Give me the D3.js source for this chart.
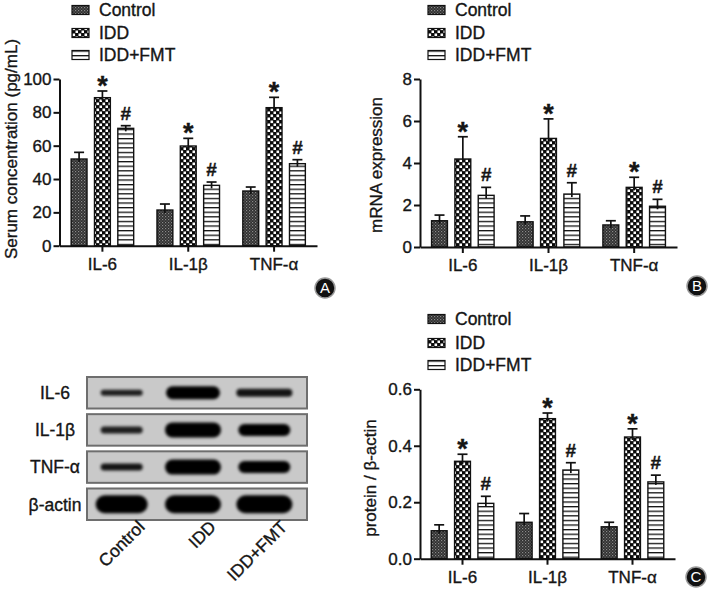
<!DOCTYPE html>
<html>
<head>
<meta charset="utf-8">
<script src="https://cdn.jsdelivr.net/npm/d3@7"></script>
<style>
  body { margin: 0; background: #fff; }
  text { font-family: 'Liberation Sans', Arial, sans-serif; fill: #151515; stroke: #151515; stroke-width: 0.35px; }
</style>
</head>
<body>
<div id="chart"></div>
<script>
let width = 709
let height = 594

// categories
let groups = ['IL-6', 'IL-1β', 'TNF-α']
let series = ['Control', 'IDD', 'IDD+FMT']

// panel A: serum concentration (pg/mL), rows = series
let serumMeans = [[52, 21.4, 32.8], [88.8, 59.8, 82.8], [70.4, 36.2, 49.2]]
let serumErrors = [[4, 3.6, 2.4], [4, 4.6, 6.2], [1.6, 2, 2.4]]
let serumTicks = [0, 20, 40, 60, 80, 100]

// panel B: mRNA expression
let mrnaMeans = [[1.25, 1.2, 1.05], [4.19, 5.17, 2.84], [2.46, 2.52, 1.94]]
let mrnaErrors = [[0.27, 0.28, 0.2], [1.06, 0.93, 0.48], [0.38, 0.54, 0.33]]
let mrnaTicks = [0, 2, 4, 6, 8]

// panel C: protein / beta-actin
let proteinMeans = [[0.099, 0.129, 0.113], [0.345, 0.496, 0.431], [0.196, 0.314, 0.272]]
let proteinErrors = [[0.021, 0.031, 0.016], [0.025, 0.02, 0.029], [0.025, 0.026, 0.024]]
let proteinTicks = [0, 0.2, 0.4, 0.6]

// significance marks per series
let marks = ['', '*', '#']

// western blot
let blotRows = ['IL-6', 'IL-1β', 'TNF-α', 'β-actin']
let blotLanes = ['Control', 'IDD', 'IDD+FMT']
let bandWidths = [[42, 54, 56], [42, 56, 52], [42, 56, 52], [52, 56, 56]]
let bandThickness = [[6, 13, 8], [7, 15, 12], [7, 15, 12], [18, 18, 18]]
let bandDarkness = [[0.85, 1, 0.9], [0.85, 1, 1], [0.9, 1, 1], [1, 1, 1]]

let svg = d3
  .select('#chart')
  .append('svg')
  .attr('width', width)
  .attr('height', height)

let defs = svg.append('defs')

// fine dark texture for Control
let p1 = defs.append('pattern')
  .attr('id', 'pat-control')
  .attr('patternUnits', 'userSpaceOnUse')
  .attr('width', 3)
  .attr('height', 3)
p1.append('rect').attr('width', 3).attr('height', 3).attr('fill', '#2e2e2e')
p1.append('rect').attr('x', 0).attr('y', 0).attr('width', 1.2).attr('height', 1.2).attr('fill', '#8a8a8a')
p1.append('rect').attr('x', 1.5).attr('y', 1.5).attr('width', 1.2).attr('height', 1.2).attr('fill', '#6a6a6a')

// checker for IDD
let p2 = defs.append('pattern')
  .attr('id', 'pat-idd')
  .attr('patternUnits', 'userSpaceOnUse')
  .attr('width', 6)
  .attr('height', 6)
p2.append('rect').attr('width', 6).attr('height', 6).attr('fill', '#0a0a0a')
p2.append('rect').attr('x', 0.5).attr('y', 0.5).attr('width', 2.6).attr('height', 2.6).attr('fill', '#fff')
p2.append('rect').attr('x', 3.5).attr('y', 3.5).attr('width', 2.6).attr('height', 2.6).attr('fill', '#fff')

// horizontal stripes for IDD+FMT
let p3 = defs.append('pattern')
  .attr('id', 'pat-fmt')
  .attr('patternUnits', 'userSpaceOnUse')
  .attr('width', 6)
  .attr('height', 4.6)
p3.append('rect').attr('width', 6).attr('height', 4.6).attr('fill', '#fff')
p3.append('rect').attr('y', 0).attr('width', 6).attr('height', 1.3).attr('fill', '#111')

let fills = ['url(#pat-control)', 'url(#pat-idd)', 'url(#pat-fmt)']

let blur = defs.append('filter')
  .attr('id', 'band-blur')
  .attr('x', '-50%').attr('y', '-100%')
  .attr('width', '200%').attr('height', '300%')
blur.append('feGaussianBlur').attr('stdDeviation', 1.8)

function drawPanel(opts) {
  let g = svg.append('g')

  let yScale = d3.scaleLinear().domain(opts.domain).range([opts.bottom, opts.top])
  let xScale = d3.scaleBand().domain(groups).range(opts.xRange)
  let inner = d3.scaleBand()
    .domain(series)
    .range([-35, 35])
    .paddingInner(0.32)
    .paddingOuter(0.16)

  let rows = []
  series.forEach((s, i) => {
    groups.forEach((grp, j) => {
      rows.push({ s: s, i: i, grp: grp, value: opts.means[i][j], err: opts.errors[i][j] })
    })
  })

  let cx = function(d) {
    return xScale(d.grp) + xScale.bandwidth() / 2 + inner(d.s) + inner.bandwidth() / 2
  }

  g.selectAll('.bar')
    .data(rows)
    .enter()
    .append('rect')
    .attr('x', d => cx(d) - inner.bandwidth() / 2)
    .attr('y', d => yScale(d.value))
    .attr('width', inner.bandwidth())
    .attr('height', d => yScale(0) - yScale(d.value))
    .attr('fill', d => fills[d.i])
    .attr('stroke', '#111')
    .attr('stroke-width', 1.4)

  // error bars (upper only)
  g.selectAll('.stem')
    .data(rows)
    .enter()
    .append('line')
    .attr('x1', cx)
    .attr('x2', cx)
    .attr('y1', d => yScale(d.value) + 3)
    .attr('y2', d => yScale(d.value + d.err))
    .attr('stroke', '#111')
    .attr('stroke-width', 1.7)
  g.selectAll('.cap')
    .data(rows)
    .enter()
    .append('line')
    .attr('x1', d => cx(d) - 5)
    .attr('x2', d => cx(d) + 5)
    .attr('y1', d => yScale(d.value + d.err))
    .attr('y2', d => yScale(d.value + d.err))
    .attr('stroke', '#111')
    .attr('stroke-width', 1.7)

  // significance marks
  g.selectAll('.mark')
    .data(rows.filter(d => marks[d.i] !== ''))
    .enter()
    .append('text')
    .attr('x', cx)
    .attr('y', d => yScale(d.value + d.err) + (marks[d.i] === '*' ? 4 : -6))
    .attr('text-anchor', 'middle')
    .attr('font-weight', 'bold')
    .attr('font-size', d => (marks[d.i] === '*' ? 27 : 19))
    .text(d => marks[d.i])

  // y axis
  let yAxis = d3.axisLeft(yScale)
    .tickValues(opts.ticks)
    .tickFormat(opts.format)
    .tickSize(6)
    .tickSizeOuter(0)
  let ya = g.append('g')
    .attr('transform', 'translate(' + opts.xRange[0] + ',0)')
    .call(yAxis)
  ya.select('.domain').attr('stroke', '#111').attr('stroke-width', 2)
  ya.selectAll('.tick line').attr('stroke', '#111').attr('stroke-width', 2)
  ya.selectAll('.tick text')
    .attr('font-size', 17)
    .attr('font-family', 'Liberation Sans, Arial, sans-serif')
    .attr('fill', '#151515')
    .attr('x', -8)

  // x axis
  let xAxis = d3.axisBottom(xScale).tickSize(6).tickSizeOuter(0)
  let xa = g.append('g')
    .attr('transform', 'translate(0,' + opts.bottom + ')')
    .call(xAxis)
  xa.select('.domain').attr('stroke', '#111').attr('stroke-width', 2)
  xa.selectAll('.tick line').attr('stroke', '#111').attr('stroke-width', 2)
  xa.selectAll('.tick text')
    .attr('font-size', 17)
    .attr('font-family', 'Liberation Sans, Arial, sans-serif')
    .attr('fill', '#151515')
    .attr('y', 12)

  // axis title
  g.append('text')
    .attr('transform', 'translate(' + opts.titleX + ',' + opts.titleY + ') rotate(-90)')
    .attr('text-anchor', 'middle')
    .attr('dy', '0.35em')
    .attr('font-size', 17)
    .text(opts.title)

  // legend
  let leg = g.selectAll('.legend')
    .data(series)
    .enter()
    .append('g')
    .attr('transform', (d, i) => 'translate(' + opts.legendX + ',' + opts.legendY[i] + ')')
  leg.append('rect')
    .attr('x', 0)
    .attr('y', -4.5)
    .attr('width', 17)
    .attr('height', 9)
    .attr('fill', (d, i) => fills[i])
    .attr('stroke', '#111')
    .attr('stroke-width', 1.2)
  leg.append('text')
    .attr('x', 27)
    .attr('dy', '0.36em')
    .attr('font-size', 17.5)
    .text(d => d)

  // panel letter
  let badge = g.append('g').attr('transform', 'translate(' + opts.badge[0] + ',' + opts.badge[1] + ')')
  badge.append('circle')
    .attr('r', 10)
    .attr('fill', '#111')
    .attr('stroke', '#9a9a9a')
    .attr('stroke-width', 1.5)
  badge.append('text')
    .attr('text-anchor', 'middle')
    .attr('dy', '0.36em')
    .attr('font-size', 15)
    .style('fill', '#fff')
    .style('stroke', 'none')
    .text(opts.letter)
}

drawPanel({
  means: serumMeans,
  errors: serumErrors,
  domain: [0, 100],
  ticks: serumTicks,
  format: d3.format('d'),
  top: 79,
  bottom: 245.7,
  xRange: [59.5, 317],
  title: 'Serum concentration (pg/mL)',
  titleX: 11,
  titleY: 149,
  legendX: 72,
  legendY: [10, 33, 55],
  badge: [325, 288],
  letter: 'A'
})

drawPanel({
  means: mrnaMeans,
  errors: mrnaErrors,
  domain: [0, 8],
  ticks: mrnaTicks,
  format: d3.format('d'),
  top: 79,
  bottom: 247,
  xRange: [420, 677],
  title: 'mRNA expression',
  titleX: 376,
  titleY: 165,
  legendX: 428,
  legendY: [10, 33, 55],
  badge: [697, 286],
  letter: 'B'
})

drawPanel({
  means: proteinMeans,
  errors: proteinErrors,
  domain: [0, 0.6],
  ticks: proteinTicks,
  format: d3.format('.1f'),
  top: 389.3,
  bottom: 558.7,
  xRange: [420, 675],
  title: 'protein / β-actin',
  titleX: 370,
  titleY: 478,
  legendX: 428,
  legendY: [319, 343, 365],
  badge: [696, 577],
  letter: 'C'
})

// western blot
let rowScale = d3.scaleBand().domain(blotRows).range([377, 520]).paddingInner(0.152)
let laneScale = d3.scaleBand().domain(blotLanes).range([86, 300])

let blot = svg.append('g')

let strips = blot.selectAll('.strip')
  .data(blotRows)
  .enter()
  .append('g')
  .attr('transform', d => 'translate(0,' + rowScale(d) + ')')

strips.append('rect')
  .attr('x', 87)
  .attr('y', 0)
  .attr('width', 220)
  .attr('height', rowScale.bandwidth())
  .attr('fill', '#c9c9c9')
  .attr('stroke', '#6e6e6e')
  .attr('stroke-width', 2)

strips.each(function(row, r) {
  let clip = 'clip-' + r
  defs.append('clipPath')
    .attr('id', clip)
    .append('rect')
    .attr('x', 88)
    .attr('y', 1)
    .attr('width', 218)
    .attr('height', rowScale.bandwidth() - 2)
  let bands = d3.select(this).append('g').attr('clip-path', 'url(#' + clip + ')')
  bands.selectAll('rect')
    .data(blotLanes)
    .enter()
    .append('rect')
    .attr('x', (d, i) => laneScale(d) + laneScale.bandwidth() / 2 - bandWidths[r][i] / 2)
    .attr('y', (d, i) => rowScale.bandwidth() / 2 - bandThickness[r][i] / 2)
    .attr('width', (d, i) => bandWidths[r][i])
    .attr('height', (d, i) => bandThickness[r][i])
    .attr('rx', (d, i) => bandThickness[r][i] / 2)
    .attr('fill', '#050505')
    .attr('opacity', (d, i) => bandDarkness[r][i])
    .attr('filter', 'url(#band-blur)')
})

strips.append('text')
  .attr('x', 55)
  .attr('y', rowScale.bandwidth() / 2)
  .attr('dy', '0.36em')
  .attr('text-anchor', 'middle')
  .attr('font-size', 17.5)
  .text(d => d)

blot.selectAll('.lane-label')
  .data(blotLanes)
  .enter()
  .append('text')
  .attr('transform', d => 'translate(' + (laneScale(d) + laneScale.bandwidth() / 2 + 24) + ',528) rotate(-45)')
  .attr('text-anchor', 'end')
  .attr('font-size', 17.5)
  .text(d => d)
</script>
</body>
</html>
